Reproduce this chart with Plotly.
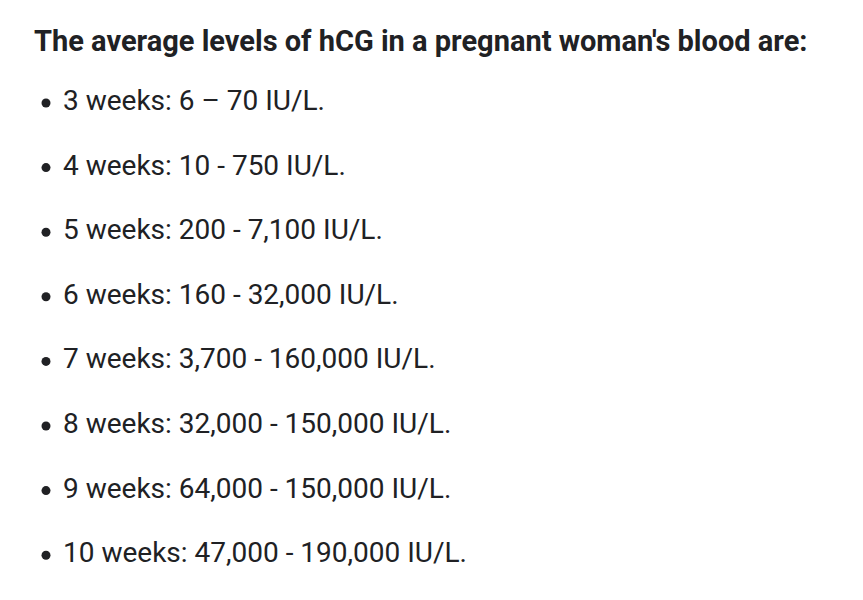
import plotly.graph_objects as go

title = "The average levels of hCG in a pregnant woman's blood are:"
weeks = [3, 4, 5, 6, 7, 8, 9, 10]
low = ["6", "10", "200", "160", "3,700", "32,000", "64,000", "47,000"]
high = ["70", "750", "7,100", "32,000", "160,000", "150,000", "150,000", "190,000"]
dash = ["–", "-", "-", "-", "-", "-", "-", "-"]

lines = [f"{w} weeks: {a} {d} {b} IU/L." for w, a, d, b in zip(weeks, low, dash, high)]
ys = [95 + i * 64.6 for i in range(len(lines))]

fig = go.Figure()
fig.add_trace(go.Scatter(
    x=[38] * len(lines), y=ys, mode="markers",
    marker=dict(size=9, color="#202124"), hoverinfo="skip"))
fig.add_trace(go.Scatter(
    x=[55] * len(lines), y=ys, mode="text", text=lines,
    textposition="middle right",
    textfont=dict(family="Roboto", size=28, color="#202124"), hoverinfo="skip"))

fig.add_annotation(x=24, y=33, xanchor="left", yanchor="middle", showarrow=False,
                   text=f"<b>{title}</b>",
                   font=dict(family="Roboto", size=29, color="#202124"))

fig.update_xaxes(range=[0, 863], visible=False)
fig.update_yaxes(range=[600, 0], visible=False)
fig.update_layout(width=863, height=600, margin=dict(l=0, r=0, t=0, b=0),
                  showlegend=False, plot_bgcolor="white", paper_bgcolor="white")
fig.write_html("out.html")
